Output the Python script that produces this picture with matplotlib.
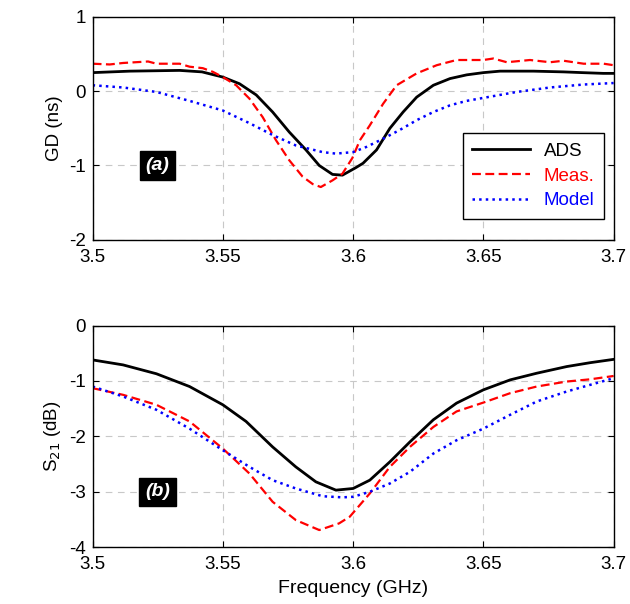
import numpy as np
import matplotlib
matplotlib.use('Agg')
import matplotlib.pyplot as plt

plt.rcParams['font.family'] = ['Liberation Sans', 'DejaVu Sans']
plt.rcParams['axes.unicode_minus'] = False

# (a) group delay, ns
f_ads_a = [3.5, 3.5143, 3.5334, 3.542, 3.55, 3.5564, 3.5628, 3.5691, 3.5755, 3.5819, 3.587, 3.5921,
           3.5959, 3.6010, 3.6038, 3.609, 3.6141, 3.6192, 3.6244, 3.6308, 3.6372, 3.6436, 3.65,
           3.6564, 3.6692, 3.6808, 3.688, 3.696, 3.7]
gd_ads = [0.25, 0.27, 0.28, 0.26, 0.19, 0.10, -0.05, -0.28, -0.55, -0.79, -1.0, -1.12,
          -1.13, -1.03, -0.97, -0.79, -0.50, -0.28, -0.08, 0.08, 0.17, 0.22, 0.25,
          0.27, 0.27, 0.26, 0.25, 0.24, 0.24]

f_meas_a = [3.5, 3.5066, 3.5117, 3.5213, 3.5245, 3.5334, 3.5372, 3.5423, 3.5462, 3.55, 3.5551,
            3.5602, 3.5653, 3.5704, 3.5755, 3.5806, 3.5845, 3.5876, 3.5921, 3.5959, 3.5997,
            3.6026, 3.6064, 3.6115, 3.6167, 3.6244, 3.6321, 3.6397, 3.65, 3.6538, 3.6590,
            3.6679, 3.6756, 3.6808, 3.6885, 3.6962, 3.7]
gd_meas = [0.37, 0.36, 0.38, 0.40, 0.37, 0.37, 0.33, 0.31, 0.26, 0.19, 0.08,
           -0.10, -0.35, -0.66, -0.93, -1.15, -1.25, -1.29, -1.20, -1.11, -0.90,
           -0.66, -0.46, -0.17, 0.08, 0.24, 0.35, 0.42, 0.42, 0.44, 0.39,
           0.42, 0.39, 0.41, 0.37, 0.37, 0.35]

f_mod_a = [3.5, 3.5117, 3.5245, 3.5372, 3.55, 3.5602, 3.5691, 3.578, 3.5883, 3.5934, 3.6,
           3.6051, 3.6115, 3.618, 3.6244, 3.6308, 3.6372, 3.6436, 3.65, 3.6628, 3.6756,
           3.6885, 3.7]
gd_mod = [0.08, 0.05, -0.01, -0.13, -0.26, -0.43, -0.59, -0.73, -0.82, -0.84, -0.82,
          -0.75, -0.64, -0.52, -0.39, -0.28, -0.19, -0.13, -0.09, -0.01, 0.05,
          0.09, 0.11]

# (b) S21, dB
f_ads_b = [3.5, 3.5117, 3.5245, 3.5372, 3.55, 3.5589, 3.5691, 3.578, 3.5857, 3.5934, 3.6,
           3.6064, 3.6141, 3.6218, 3.6308, 3.6397, 3.65, 3.6603, 3.6705, 3.682, 3.691, 3.7]
s21_ads = [-0.62, -0.71, -0.87, -1.10, -1.43, -1.73, -2.19, -2.55, -2.82, -2.97, -2.94,
           -2.79, -2.46, -2.10, -1.70, -1.40, -1.16, -0.98, -0.86, -0.74, -0.67, -0.61]

f_meas_b = [3.5, 3.5117, 3.5245, 3.5372, 3.55, 3.5602, 3.5691, 3.578, 3.587, 3.5946, 3.5987,
            3.6064, 3.6141, 3.6218, 3.6308, 3.6397, 3.65, 3.6603, 3.6705, 3.682, 3.691, 3.7]
s21_meas = [-1.13, -1.25, -1.43, -1.73, -2.22, -2.67, -3.18, -3.51, -3.69, -3.57, -3.45,
            -3.03, -2.55, -2.19, -1.83, -1.55, -1.39, -1.22, -1.10, -1.01, -0.97, -0.91]

f_mod_b = [3.5, 3.5117, 3.5245, 3.5372, 3.55, 3.5602, 3.5691, 3.578, 3.5883, 3.5959, 3.6,
           3.6064, 3.6141, 3.6218, 3.6308, 3.6397, 3.65, 3.6603, 3.6705, 3.682, 3.691, 3.7]
s21_mod = [-1.10, -1.28, -1.52, -1.86, -2.25, -2.55, -2.79, -2.94, -3.08, -3.10, -3.09,
           -3.0, -2.85, -2.64, -2.31, -2.07, -1.86, -1.61, -1.37, -1.19, -1.07, -0.95]

xticks = [3.5, 3.55, 3.6, 3.65, 3.7]
xticklabels = ['3.5', '3.55', '3.6', '3.65', '3.7']

fig = plt.figure(figsize=(6.3, 6.04), dpi=100)
ax1 = fig.add_axes([0.147, 0.603, 0.827, 0.369])
ax2 = fig.add_axes([0.147, 0.094, 0.827, 0.367])


def style(ax):
    ax.set_xlim(3.5, 3.7)
    ax.set_xticks(xticks)
    ax.set_xticklabels(xticklabels)
    ax.grid(True, color='#c8c8c8', linestyle=(0, (6, 5)), linewidth=0.8)
    ax.tick_params(direction='in', top=True, right=True, labelsize=13.5, length=4, pad=5)
    ax.tick_params(axis='x', pad=6.5)
    for s in ax.spines.values():
        s.set_linewidth(1.0)


ax1.plot(f_ads_a, gd_ads, '-', color='k', linewidth=2, label='ADS')
ax1.plot(f_meas_a, gd_meas, '--', color='r', linewidth=1.6, dashes=(4, 2), label='Meas.')
ax1.plot(f_mod_a, gd_mod, ':', color='b', linewidth=1.8, label='Model')
style(ax1)
ax1.set_ylim(-2, 1)
ax1.set_yticks([-2, -1, 0, 1])
ax1.set_ylabel('GD (ns)', fontsize=13.5)
leg = ax1.legend(loc='upper right', bbox_to_anchor=(0.981, 0.477), fontsize=13.5,
                 fancybox=False, framealpha=1, edgecolor='k', handlelength=3.1,
                 borderpad=0.5, labelspacing=0.4, handletextpad=0.7, borderaxespad=0)
leg.get_frame().set_linewidth(1.0)
for t, c in zip(leg.get_texts(), ['k', 'r', 'b']):
    t.set_color(c)
ax1.text(3.5249, -1.0, '(a)', color='w', fontsize=14, fontweight='bold', style='italic',
         ha='center', va='center', bbox=dict(facecolor='k', edgecolor='k', pad=4))

ax2.plot(f_ads_b, s21_ads, '-', color='k', linewidth=2)
ax2.plot(f_meas_b, s21_meas, '--', color='r', linewidth=1.6, dashes=(4, 2))
ax2.plot(f_mod_b, s21_mod, ':', color='b', linewidth=1.8)
style(ax2)
ax2.set_ylim(-4, 0)
ax2.set_yticks([-4, -3, -2, -1, 0])
ax2.set_ylabel('S$_{21}$ (dB)', fontsize=13.5)
ax2.set_xlabel('Frequency (GHz)', fontsize=14, labelpad=5)
ax2.text(3.5249, -3.0, '(b)', color='w', fontsize=14, fontweight='bold', style='italic',
         ha='center', va='center', bbox=dict(facecolor='k', edgecolor='k', pad=4))

fig.savefig('out.png', dpi=100)
